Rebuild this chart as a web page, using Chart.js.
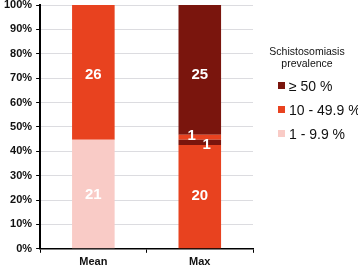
<!DOCTYPE html>
<html>
<head>
<meta charset="utf-8">
<script src="https://cdn.jsdelivr.net/npm/chart.js@4.4.0/dist/chart.umd.min.js"></script>
<style>
  html, body { margin: 0; padding: 0; background: #fff; }
  #wrap { position: relative; width: 358px; height: 268px; overflow: hidden; }
  #legend { position: absolute; left: 265px; top: 45px; font-family: "Liberation Sans", Arial, sans-serif; color: #111; }
  #legend .title { font-size: 10.5px; text-align: center; width: 84px; line-height: 12px; margin-bottom: 9px; }
  #legend .item { font-size: 14px; height: 24px; line-height: 16px; white-space: nowrap; margin-left: 13px; }
  #legend .box { display: inline-block; width: 7px; height: 7px; margin-right: 4px; vertical-align: 2px; }
</style>
</head>
<body>
<div id="wrap">
  <canvas id="chart" width="358" height="268"></canvas>
  <div id="legend"></div>
</div>
<script>
// counts of sites per prevalence class, stacked bottom to top
var categories = ['Mean', 'Max'];
var lowBottom = [21, 0];     // 1 - 9.9 %
var midBottom = [26, 20];    // 10 - 49.9 %
var highMiddle = [0, 1];     // >= 50 %
var midTop = [0, 1];         // 10 - 49.9 %
var highTop = [0, 25];       // >= 50 %
var yTicks = [0, 10, 20, 30, 40, 50, 60, 70, 80, 90, 100];

var colors = { high: '#7a150d', mid: '#e8421f', low: '#f9cbc6' };
var legendItems = [
  { label: '\u2265 50 %', color: colors.high },
  { label: '10 - 49.9 %', color: colors.mid },
  { label: '1 - 9.9 %', color: colors.low }
];

var series = [lowBottom, midBottom, highMiddle, midTop, highTop];
var totals = categories.map(function (c, i) {
  return series.reduce(function (s, arr) { return s + arr[i]; }, 0);
});
function pct(arr) {
  return arr.map(function (v, i) { return v / totals[i] * 100; });
}

// label nudges (px) per bar, to sit where the original put them
function ds(arr, color, dx, dy) {
  return {
    data: pct(arr),
    counts: arr,
    backgroundColor: color,
    borderWidth: 0,
    labelDx: dx || [0, 0],
    labelDy: dy || [0, 0],
    barPercentage: 0.4,
    categoryPercentage: 1
  };
}

var valueLabels = {
  id: 'valueLabels',
  afterDatasetsDraw: function (chart) {
    var ctx = chart.ctx;
    ctx.save();
    ctx.fillStyle = '#fff';
    ctx.font = 'bold 15px "Liberation Sans", Arial, sans-serif';
    ctx.textAlign = 'center';
    ctx.textBaseline = 'middle';
    chart.data.datasets.forEach(function (d, di) {
      chart.getDatasetMeta(di).data.forEach(function (bar, i) {
        var n = d.counts[i];
        if (!n) return;
        var p = bar.getProps(['x', 'y', 'base'], true);
        ctx.fillText(String(n), p.x + d.labelDx[i], (p.y + p.base) / 2 + d.labelDy[i]);
      });
    });
    ctx.restore();
  }
};

var tickFont = { family: '"Liberation Sans", Arial, sans-serif', size: 11, weight: 'bold' };

new Chart(document.getElementById('chart').getContext('2d'), {
  type: 'bar',
  data: {
    labels: categories,
    datasets: [
      ds(lowBottom, colors.low, [0, 0], [1, 0]),
      ds(midBottom, colors.mid, [0, 0], [2, -1]),
      ds(highMiddle, colors.high, [0, 7], [0, 2]),
      ds(midTop, colors.mid, [0, -8], [0, -1]),
      ds(highTop, colors.high, [0, 0], [0, 5])
    ]
  },
  options: {
    responsive: false,
    animation: false,
    layout: { padding: { top: 0, right: 105, left: 0, bottom: -4 } },
    plugins: { legend: { display: false }, tooltip: { enabled: false } },
    scales: {
      x: {
        stacked: true,
        grid: { display: true, drawOnChartArea: false, drawTicks: true, tickLength: 4, color: '#000', offset: true },
        border: { color: '#000', width: 1.5 },
        ticks: { color: '#111', font: tickFont, padding: 3 }
      },
      y: {
        stacked: true,
        min: 0,
        max: 100,
        afterBuildTicks: function (axis) {
          axis.ticks = yTicks.map(function (v) { return { value: v }; });
        },
        afterFit: function (axis) {
          axis.paddingTop = 5;
        },
        grid: { color: '#dcdce0', tickColor: '#000', tickLength: 4 },
        border: { color: '#000', width: 2 },
        ticks: {
          color: '#111',
          font: tickFont,
          padding: 4,
          callback: function (v) { return v + '%'; }
        }
      }
    }
  },
  plugins: [valueLabels]
});

var lg = document.getElementById('legend');
var html = '<div class="title">Schistosomiasis<br>prevalence</div>';
legendItems.forEach(function (it) {
  html += '<div class="item"><span class="box" style="background:' + it.color + '"></span>' + it.label + '</div>';
});
lg.innerHTML = html;
</script>
</body>
</html>
